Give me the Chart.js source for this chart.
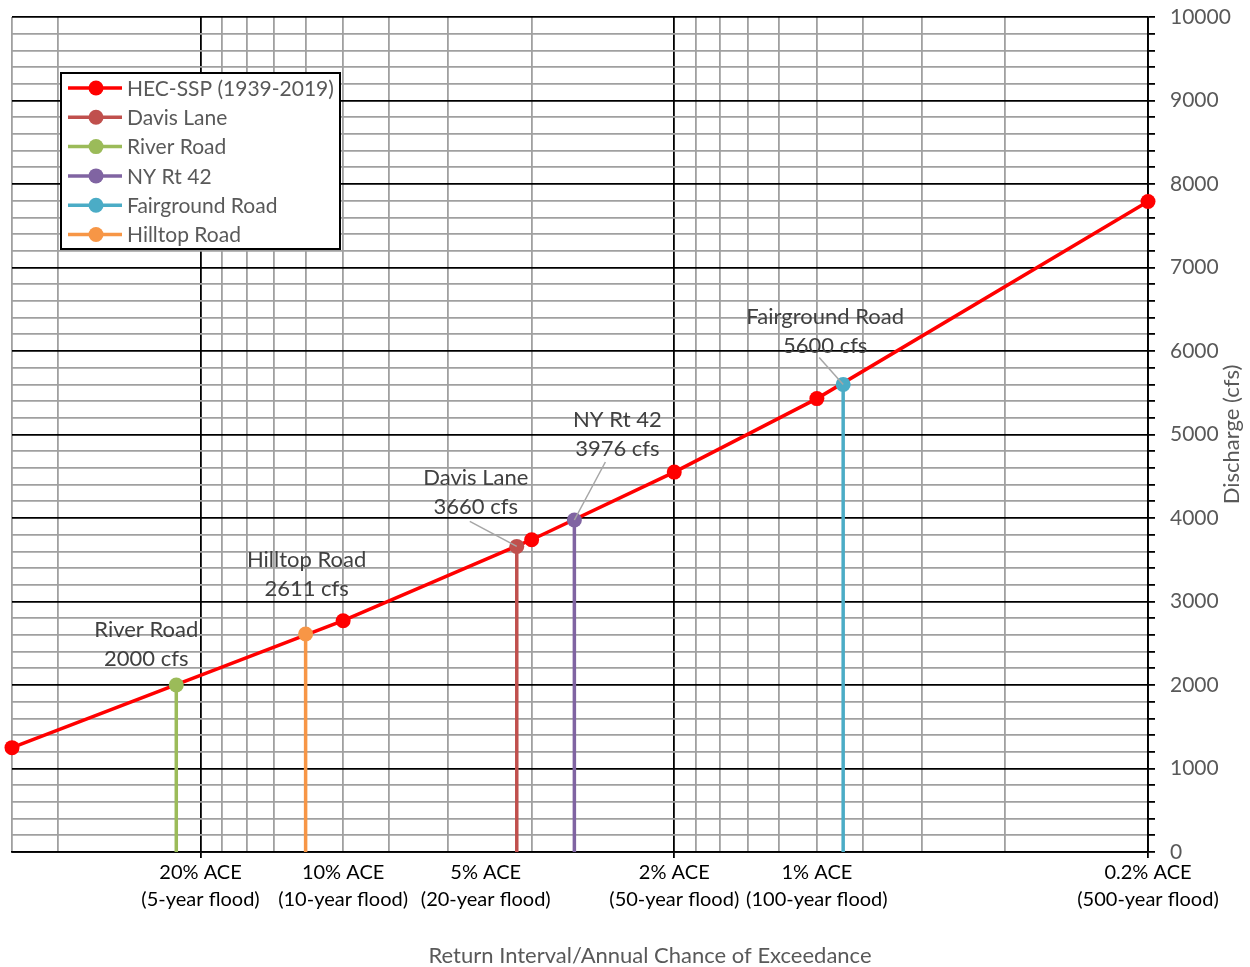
<!DOCTYPE html>
<html>
<head>
<meta charset="utf-8">
<script src="https://cdn.jsdelivr.net/npm/chart.js@4.4.0/dist/chart.umd.min.js"></script>
<style>
html,body{margin:0;padding:0;background:#fff;}
#wrap{width:1250px;height:967px;position:relative;}
</style>
</head>
<body>
<div id="wrap"><canvas id="c" width="1250" height="967"></canvas></div>
<script>
const FONT = 'Lato, Carlito, "Open Sans", sans-serif';

// ---------- data ----------
const hecLabel = 'HEC-SSP (1939-2019)';
const hecAce  = [0.5, 0.1, 0.04, 0.02, 0.01, 0.002];
const hecFlow = [1250, 2770, 3740, 4550, 5430, 7790];

const siteNames  = ['Davis Lane', 'River Road', 'NY Rt 42', 'Fairground Road', 'Hilltop Road'];
const siteAce    = [0.043, 0.225, 0.0325, 0.0088, 0.12];
const siteFlow   = [3660, 2000, 3976, 5600, 2611];
const siteColors = ['#C0504D', '#9BBB59', '#8064A2', '#4BACC6', '#F79646'];

const xLabelAce  = [0.2, 0.1, 0.05, 0.02, 0.01, 0.002];
const xLabelText = [
  ['20% ACE', '(5-year flood)'],
  ['10% ACE', '(10-year flood)'],
  ['5% ACE', '(20-year flood)'],
  ['2% ACE', '(50-year flood)'],
  ['1% ACE', '(100-year flood)'],
  ['0.2% ACE', '(500-year flood)']
];
const xMajorGrid = [0.2, 0.02, 0.002];
const xMinorGrid = [0.5, 0.4, 0.18, 0.16, 0.14, 0.12, 0.1, 0.08, 0.06, 0.04,
                    0.018, 0.016, 0.014, 0.012, 0.01, 0.008, 0.006, 0.004];

const yMin = 0, yMax = 10000, yMajorStep = 1000, yMinorStep = 200;

const xTitle = 'Return Interval/Annual Chance of Exceedance';
const yTitle = 'Discharge (cfs)';

// ---------- helpers ----------
const same = (a, b) => Math.abs(Math.log10(a / b)) < 1e-6;
const inList = (v, list) => list.some(a => same(v, a));
const allX = Array.from(new Set([...xMinorGrid, ...xMajorGrid, ...xLabelAce].map(v => +v.toPrecision(6))))
  .sort((a, b) => b - a);
const yTicks = [];
for (let v = yMin; v <= yMax; v += yMinorStep) yTicks.push(v);

// label layout (pixel offsets relative to each site point)
const labelLayout = {
  'River Road':      { dx: -30, dy: -55, leader: null },
  'Hilltop Road':    { dx: 1,   dy: -74, leader: null },
  'Davis Lane':      { dx: -41, dy: -68, leader: [-47, -25] },
  'NY Rt 42':        { dx: 43,  dy: -100, leader: [31, -58] },
  'Fairground Road': { dx: -18, dy: -67, leader: [-24, -27] }
};

const datasets = [{
  label: hecLabel,
  data: hecAce.map((a, i) => ({ x: a, y: hecFlow[i] })),
  showLine: true,
  borderColor: '#FF0000', backgroundColor: '#FF0000',
  borderWidth: 3.5, pointRadius: 7.5, pointHoverRadius: 7.5, pointBorderWidth: 0,
  order: 10, clip: false
}].concat(siteNames.map((n, i) => ({
  label: n,
  data: [{ x: siteAce[i], y: 0 }, { x: siteAce[i], y: siteFlow[i] }],
  showLine: true,
  borderColor: siteColors[i], backgroundColor: siteColors[i],
  borderWidth: 3.5, pointRadius: [0, 7.5], pointHoverRadius: [0, 7.5], pointBorderWidth: 0,
  order: 0, clip: false
})));

const overlay = {
  id: 'overlay',
  afterDatasetsDraw(chart) {
    const ctx = chart.ctx;
    ctx.save();
    chart.data.datasets.forEach((ds, di) => {
      if (di === 0) return;
      const lay = labelLayout[ds.label];
      const el = chart.getDatasetMeta(di).data[1];
      const px = el.x, py = el.y;
      if (lay.leader) {
        ctx.strokeStyle = '#A6A6A6';
        ctx.lineWidth = 1.5;
        ctx.beginPath();
        ctx.moveTo(px + lay.leader[0], py + lay.leader[1]);
        ctx.lineTo(px, py);
        ctx.stroke();
      }
      ctx.fillStyle = '#404040';
      ctx.font = '22px ' + FONT;
      ctx.textAlign = 'center';
      ctx.textBaseline = 'middle';
      ctx.fillText(ds.label, px + lay.dx, py + lay.dy);
      ctx.fillText(ds.data[1].y + ' cfs', px + lay.dx, py + lay.dy + 29);
    });
    ctx.restore();
  },
  afterDraw(chart) {
    const ctx = chart.ctx;
    const ca = chart.chartArea;
    ctx.save();
    // legend box
    const bx = ca.left + 49, by = ca.top + 56, bw = 279, bh = 176;
    ctx.fillStyle = '#fff';
    ctx.fillRect(bx, by, bw, bh);
    ctx.strokeStyle = '#000';
    ctx.lineWidth = 2;
    ctx.strokeRect(bx, by, bw, bh);
    chart.data.datasets.forEach((ds, i) => {
      const cy = by + 15 + i * 29.3;
      ctx.strokeStyle = ds.borderColor;
      ctx.lineWidth = 3.5;
      ctx.beginPath();
      ctx.moveTo(bx + 7, cy);
      ctx.lineTo(bx + 61, cy);
      ctx.stroke();
      ctx.fillStyle = ds.backgroundColor;
      ctx.beginPath();
      ctx.arc(bx + 35, cy, 7.5, 0, Math.PI * 2);
      ctx.fill();
      ctx.fillStyle = '#595959';
      ctx.font = '21px ' + FONT;
      ctx.textAlign = 'left';
      ctx.textBaseline = 'middle';
      ctx.fillText(ds.label, bx + 66, cy + 1);
    });
    // axis titles
    ctx.fillStyle = '#595959';
    ctx.font = '22px ' + FONT;
    ctx.textAlign = 'center';
    ctx.textBaseline = 'middle';
    ctx.fillText(xTitle, 650, 956);
    ctx.translate(1232, (ca.top + ca.bottom) / 2);
    ctx.rotate(-Math.PI / 2);
    ctx.fillText(yTitle, 0, 0);
    ctx.restore();
  }
};

new Chart(document.getElementById('c'), {
  type: 'scatter',
  data: { datasets },
  plugins: [overlay],
  options: {
    responsive: false,
    animation: false,
    events: [],
    layout: { padding: { left: 12, top: 17, right: 0, bottom: 0 } },
    plugins: { legend: { display: false }, tooltip: { enabled: false } },
    scales: {
      x: {
        type: 'logarithmic', reverse: true, min: 0.002, max: 0.5, position: 'bottom',
        afterBuildTicks: s => { s.ticks = allX.map(v => ({ value: v })); },
        afterFit: s => { s.height = 115; s.paddingLeft = 0; },
        grid: {
          color: c => {
            const v = c.tick ? c.tick.value : 0;
            if (inList(v, xMajorGrid)) return '#000';
            if (inList(v, xMinorGrid)) return '#A0A0A0';
            return 'rgba(0,0,0,0)';
          },
          lineWidth: 1.8,
          drawTicks: true,
          tickLength: 6,
          tickColor: c => (c.tick && inList(c.tick.value, xMajorGrid)) ? '#000' : 'rgba(0,0,0,0)'
        },
        border: { display: true, color: '#000', width: 1.8 },
        ticks: {
          autoSkip: false, maxRotation: 0, minRotation: 0, padding: 1,
          color: '#000',
          font: { family: FONT, size: 20, lineHeight: '27px' },
          callback: v => {
            const i = xLabelAce.findIndex(a => same(a, v));
            return i >= 0 ? xLabelText[i] : '';
          }
        }
      },
      y: {
        type: 'linear', position: 'right', min: yMin, max: yMax,
        afterBuildTicks: s => { s.ticks = yTicks.map(v => ({ value: v })); },
        afterFit: s => { s.width = 102; s.paddingTop = 0; s.paddingBottom = 0; },
        grid: {
          color: c => (c.tick && c.tick.value % yMajorStep === 0) ? '#000' : '#A0A0A0',
          lineWidth: 1.8,
          drawTicks: true,
          tickLength: 7,
          tickColor: '#000'
        },
        border: { display: true, color: '#000', width: 1.8 },
        ticks: {
          autoSkip: false, padding: 15, color: '#595959',
          font: { family: FONT, size: 21 },
          callback: v => (v % yMajorStep === 0 ? String(v) : '')
        }
      }
    }
  }
});
</script>
</body>
</html>
